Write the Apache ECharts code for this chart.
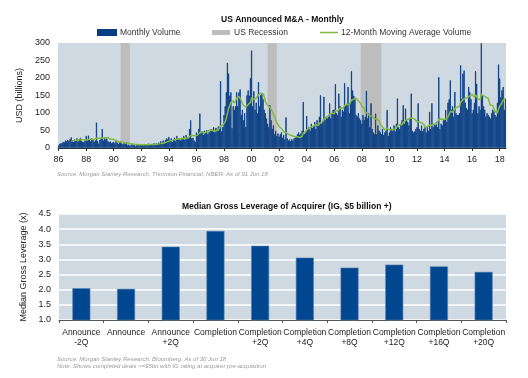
<!DOCTYPE html>
<html><head><meta charset="utf-8">
<script src="https://cdn.jsdelivr.net/npm/echarts/dist/echarts.min.js"></script>
<style>html,body{margin:0;padding:0;background:#fff}#c{width:528px;height:378px}</style>
</head><body><div id="c"></div>
<script>
// ---------- Top chart data: US announced M&A, monthly, USD bn (Jan 1986 - Jun 2018) ----------
const startYear = 1986;
const monthlyVolume = [
  8, 12, 14, 15, 18, 17, 22, 20, 24, 21, 26, 31,        // 1986
  22, 18, 25, 20, 28, 19, 24, 30, 21, 18, 17, 22,       // 1987
  35, 22, 36, 25, 20, 28, 24, 18, 22, 73, 20, 13,       // 1988
  24, 28, 55, 22, 30, 25, 28, 20, 18, 19, 15, 16,       // 1989
  18, 14, 20, 16, 12, 17, 19, 13, 11, 14, 12, 14,       // 1990
  8, 10, 7, 9, 12, 8, 10, 6, 9, 11, 8, 10,              // 1991
  9, 11, 8, 12, 10, 9, 13, 8, 11, 10, 9, 14,            // 1992
  12, 14, 10, 16, 13, 20, 15, 22, 18, 24, 28, 25,       // 1993
  32, 22, 28, 18, 25, 30, 20, 35, 24, 28, 22, 30,       // 1994
  28, 35, 24, 38, 30, 32, 55, 80, 28, 30, 22, 18,       // 1995
  45, 40, 55, 99, 42, 48, 38, 50, 45, 52, 40, 46,       // 1996
  48, 55, 52, 60, 45, 58, 50, 62, 55, 192, 48, 60,      // 1997
  95, 120, 160, 244, 213, 150, 160, 57, 120, 110, 120, 160,  // 1998
  120, 159, 168, 95, 110, 80, 100, 60, 151, 165, 150, 200,   // 1999
  279, 120, 163, 110, 130, 100, 189, 120, 151, 156, 140, 110, // 2000
  100, 85, 70, 60, 123, 80, 55, 65, 40, 50, 35, 42,     // 2001
  33, 40, 45, 30, 38, 25, 88, 28, 22, 25, 20, 26,       // 2002
  22, 28, 30, 35, 40, 45, 38, 42, 50, 132, 40, 48,      // 2003
  92, 55, 60, 50, 70, 58, 62, 75, 55, 80, 68, 90,       // 2004
  151, 70, 75, 147, 80, 90, 85, 95, 128, 85, 100, 110,  // 2005
  110, 183, 100, 95, 156, 120, 90, 110, 105, 186, 120, 125, // 2006
  175, 100, 130, 220, 165, 150, 140, 95, 90, 100, 85, 80,   // 2007
  70, 95, 80, 90, 164, 85, 100, 60, 128, 55, 45, 40,    // 2008
  99, 40, 65, 50, 45, 40, 55, 38, 45, 50, 109, 35,      // 2009
  45, 60, 55, 50, 65, 48, 70, 142, 60, 55, 70, 80,      // 2010
  123, 70, 113, 80, 75, 65, 85, 156, 50, 45, 48, 55,    // 2011
  60, 128, 55, 50, 65, 48, 55, 60, 45, 62, 50, 104,     // 2012
  55, 128, 60, 70, 65, 75, 60, 203, 55, 70, 65, 80,     // 2013
  80, 109, 75, 130, 140, 194, 110, 120, 90, 161, 100, 95,   // 2014
  95, 100, 237, 140, 213, 222, 130, 115, 110, 175, 160, 140, // 2015
  100, 110, 130, 220, 184, 100, 120, 110, 300, 150, 120, 110, // 2016
  90, 100, 95, 90, 85, 100, 110, 105, 95, 90, 130, 239,  // 2017
  199, 145, 165, 175, 110, 141                           // 2018 (to Jun)
];
const recessionPeriods = [['1990-07', '1991-03'], ['2001-03', '2001-11'], ['2007-12', '2009-06']];
const yearTickLabels = ['86','88','90','92','94','96','98','00','02','04','06','08','10','12','14','16','18'];
const volumeTicks = [0, 50, 100, 150, 200, 250, 300];

// ---------- Bottom chart data: median gross leverage of acquirer ----------
const leverageCategories = ['Announce\n-2Q','Announce','Announce\n+2Q','Completion','Completion\n+2Q',
  'Completion\n+4Q','Completion\n+8Q','Completion\n+12Q','Completion\n+16Q','Completion\n+20Q'];
const leverageValues = [2.05, 2.03, 3.42, 3.94, 3.45, 3.06, 2.73, 2.83, 2.77, 2.59];
const leverageTicks = [1.0, 1.5, 2.0, 2.5, 3.0, 3.5, 4.0, 4.5];

// ---------- derived ----------
const months = monthlyVolume.map((_, i) => {
  const y = startYear + Math.floor(i / 12), m = (i % 12) + 1;
  return y + '-' + (m < 10 ? '0' + m : m);
});
// 12-month moving average of the monthly volume (as defined by the chart)
const movingAvg = monthlyVolume.map((_, i) => {
  if (i < 11) return '-';
  let s = 0; for (let k = i - 11; k <= i; k++) s += monthlyVolume[k];
  return +(s / 12).toFixed(1);
});
const isLabelMonth = (val) => val.endsWith('-01') && (+val.slice(0, 4)) % 2 === 0;

const FF = "'Liberation Sans',Arial,sans-serif";
const FS = 8.5;
const TXT = '#222';
const chart = echarts.init(document.getElementById('c'), null, {renderer: 'canvas'});
chart.setOption({
  animation: false,
  backgroundColor: '#ffffff',
  textStyle: {fontFamily: FF},
  title: [
    {text: 'US Announced M&A - Monthly', left: 221, top: 15, padding: 0,
     textStyle: {fontSize: FS, fontWeight: 'bold', color: '#111', fontFamily: FF}},
    {text: 'Median Gross Leverage of Acquirer (IG, $5 billion +)', left: 182, top: 202, padding: 0,
     textStyle: {fontSize: FS, fontWeight: 'bold', color: '#111', fontFamily: FF}}
  ],
  legend: [
    {data: ['Monthly Volume'], left: 97, top: 28, padding: 0, itemWidth: 18, itemHeight: 5,
     icon: 'rect', textStyle: {fontSize: FS, color: '#333', fontFamily: FF, padding: [0,0,0,-1]}},
    {data: ['US Recession'], left: 212, top: 28, padding: 0, itemWidth: 18, itemHeight: 5,
     icon: 'rect', textStyle: {fontSize: FS, color: '#333', fontFamily: FF, padding: [0,0,0,-1]}},
    {data: ['12-Month Moving Average Volume'], left: 320, top: 28, padding: 0, itemWidth: 18, itemHeight: 1.5,
     icon: 'rect', textStyle: {fontSize: FS, color: '#333', fontFamily: FF, padding: [0,0,0,-2]}}
  ],
  grid: [
    {left: 58, top: 43, width: 448, height: 105, show: true, backgroundColor: '#cfd9e1', borderWidth: 0, outerBoundsMode: 'none'},
    {left: 59, top: 214, width: 447, height: 106, show: true, backgroundColor: '#cfd9e1', borderWidth: 0, outerBoundsMode: 'none'}
  ],
  xAxis: [
    {type: 'category', gridIndex: 0, data: months, boundaryGap: true,
     axisLine: {show: true, lineStyle: {color: '#333', width: 1}},
     axisTick: {show: true, length: 3, alignWithLabel: true, interval: (i, v) => isLabelMonth(v), lineStyle: {color: '#333'}},
     axisLabel: {show: true, interval: (i, v) => isLabelMonth(v), margin: 7, fontSize: FS + 0.5, color: TXT, fontFamily: FF,
       formatter: (v) => yearTickLabels[((+v.slice(0, 4)) - startYear) / 2]},
     splitLine: {show: false}},
    {type: 'category', gridIndex: 1, data: leverageCategories,
     axisLine: {show: true, lineStyle: {color: '#555', width: 1}},
     axisTick: {show: true, length: 3, lineStyle: {color: '#555'}},
     axisLabel: {interval: 0, margin: 8, fontSize: FS, lineHeight: 10, color: TXT, fontFamily: FF},
     splitLine: {show: false}}
  ],
  yAxis: [
    {type: 'value', gridIndex: 0, min: volumeTicks[0], max: volumeTicks[volumeTicks.length - 1], interval: 50,
     name: 'USD (billions)', nameLocation: 'middle', nameGap: 30,
     nameTextStyle: {fontSize: FS + 0.5, color: TXT, fontFamily: FF},
     axisLine: {show: false}, axisTick: {show: false}, splitLine: {show: false},
     axisLabel: {margin: 8, fontSize: FS + 0.5, color: TXT, fontFamily: FF}},
    {type: 'value', gridIndex: 1, min: leverageTicks[0], max: leverageTicks[leverageTicks.length - 1], interval: 0.5,
     name: 'Median Gross Leverage (x)', nameLocation: 'middle', nameGap: 30,
     nameTextStyle: {fontSize: FS + 0.5, color: TXT, fontFamily: FF},
     axisLine: {show: false}, axisTick: {show: false},
     splitLine: {show: true, lineStyle: {color: '#ffffff', width: 1.5}},
     axisLabel: {margin: 8, fontSize: FS + 0.5, color: TXT, fontFamily: FF, formatter: (v) => v.toFixed(1)}}
  ],
  series: [
    {name: 'US Recession', type: 'line', xAxisIndex: 0, yAxisIndex: 0, data: [], z: 1,
     itemStyle: {color: '#bdbdbd'}, lineStyle: {color: '#bdbdbd'},
     markArea: {silent: true, itemStyle: {color: '#bdbdbd', opacity: 1},
       data: recessionPeriods.map(p => [{xAxis: p[0]}, {xAxis: p[1]}])}},
    {name: 'Monthly Volume', type: 'bar', xAxisIndex: 0, yAxisIndex: 0, data: monthlyVolume, z: 2,
     barCategoryGap: '0%', itemStyle: {color: '#083c84', borderColor: '#083c84', borderWidth: 0.8}},
    {name: '12-Month Moving Average Volume', type: 'line', xAxisIndex: 0, yAxisIndex: 0, data: movingAvg, z: 3,
     symbol: 'none', lineStyle: {color: '#82b941', width: 1.5}, itemStyle: {color: '#82b941'}},
    {name: 'Leverage', type: 'bar', xAxisIndex: 1, yAxisIndex: 1, data: leverageValues, z: 2,
     barWidth: 18, itemStyle: {color: '#00478f', borderColor: '#5d83b3', borderWidth: 0.6}}
  ],
  graphic: [
    {type: 'text', left: 57, top: 171, silent: true,
     style: {text: 'Source: Morgan Stanley Research, Thomson Financial, NBER. As of 01 Jun 18',
       fontSize: 6, fontStyle: 'italic', fontFamily: FF, fill: '#9a9a9a'}},
    {type: 'text', left: 57, top: 356, silent: true,
     style: {text: 'Source: Morgan Stanley Research, Bloomberg. As of 30 Jun 18',
       fontSize: 6, fontStyle: 'italic', fontFamily: FF, fill: '#9a9a9a'}},
    {type: 'text', left: 57, top: 363.5, silent: true,
     style: {text: 'Note: Shows completed deals >=$5bn with IG rating at acquirer pre-acquisition',
       fontSize: 6, fontStyle: 'italic', fontFamily: FF, fill: '#9a9a9a'}}
  ]
});
</script>
</body></html>
